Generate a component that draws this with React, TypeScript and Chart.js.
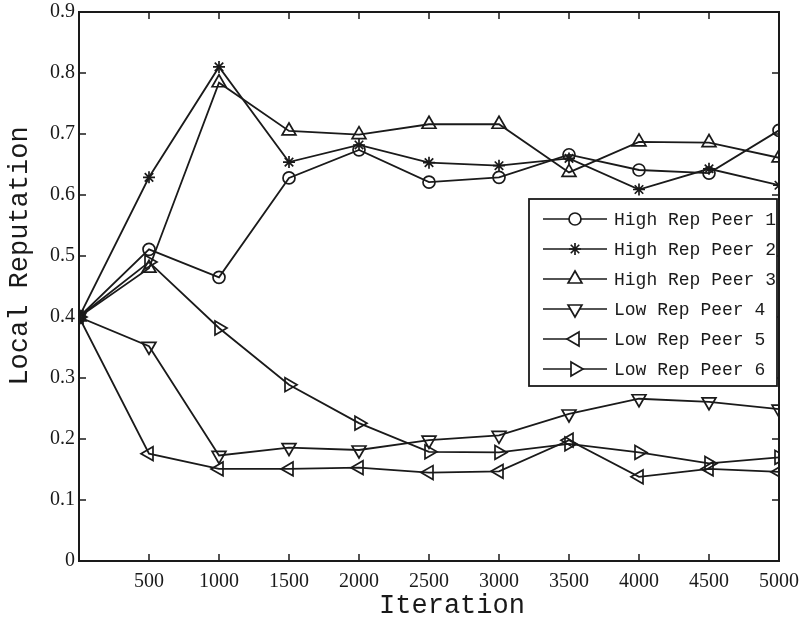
import React, { useEffect, useRef } from "react";
import { Chart, registerables } from "chart.js";
import { drawPoint } from "chart.js/helpers";

Chart.register(...registerables);

const iterations = [0, 500, 1000, 1500, 2000, 2500, 3000, 3500, 4000, 4500, 5000];
const seriesNames = [
  "High Rep Peer 1",
  "High Rep Peer 2",
  "High Rep Peer 3",
  "Low Rep Peer 4",
  "Low Rep Peer 5",
  "Low Rep Peer 6",
];
const peer1 = [0.4, 0.511, 0.465, 0.628, 0.674, 0.621, 0.629, 0.666, 0.641, 0.636, 0.706];
const peer2 = [0.4, 0.629, 0.81, 0.654, 0.682, 0.653, 0.648, 0.66, 0.609, 0.643, 0.616];
const peer3 = [0.4, 0.48, 0.784, 0.705, 0.699, 0.716, 0.716, 0.637, 0.687, 0.686, 0.661];
const peer4 = [0.4, 0.352, 0.173, 0.186, 0.182, 0.198, 0.206, 0.241, 0.266, 0.261, 0.249];
const peer5 = [0.4, 0.176, 0.151, 0.151, 0.153, 0.145, 0.147, 0.198, 0.138, 0.151, 0.146];
const peer6 = [0.4, 0.49, 0.382, 0.289, 0.226, 0.179, 0.178, 0.192, 0.178, 0.16, 0.17];
const yTicks = [0, 0.1, 0.2, 0.3, 0.4, 0.5, 0.6, 0.7, 0.8, 0.9];
const xTicks = [500, 1000, 1500, 2000, 2500, 3000, 3500, 4000, 4500, 5000];

const allSeries = [peer1, peer2, peer3, peer4, peer5, peer6];
const pointStyles = ["circle", "star", "triangle", "triangle", "triangle", "triangle"];
const rotations = [0, 0, 0, 180, 270, 90];
const radii = [6, 6, 8, 8, 8, 8];

const INK = "#1a1a1a";
const FONT = "'Liberation Mono', 'DejaVu Sans Mono', monospace";
const TICK_FONT = "'Liberation Serif', 'DejaVu Serif', serif";

const framePlugin = {
  id: "frame",
  afterDatasetsDraw(chart: any) {
    const { ctx, chartArea } = chart;
    const { left, right, top, bottom } = chartArea;
    const xs = chart.scales.x;
    const ys = chart.scales.y;
    ctx.save();
    ctx.strokeStyle = INK;
    ctx.lineWidth = 1.5;
    ctx.beginPath();
    xTicks.forEach((v) => {
      const px = xs.getPixelForValue(v);
      ctx.moveTo(px, bottom);
      ctx.lineTo(px, bottom - 7);
      ctx.moveTo(px, top);
      ctx.lineTo(px, top + 7);
    });
    yTicks.forEach((v) => {
      const py = ys.getPixelForValue(v);
      ctx.moveTo(left, py);
      ctx.lineTo(left + 7, py);
      ctx.moveTo(right, py);
      ctx.lineTo(right - 7, py);
    });
    ctx.stroke();
    ctx.lineWidth = 2;
    ctx.strokeRect(left, top, right - left, bottom - top);

    const lx = right - 250;
    const ly = top + 187;
    const lw = 248;
    const lh = 187;
    ctx.fillStyle = "#ffffff";
    ctx.fillRect(lx, ly, lw, lh);
    ctx.lineWidth = 1.8;
    ctx.strokeRect(lx, ly, lw, lh);
    ctx.font = `18px ${FONT}`;
    ctx.textBaseline = "middle";
    ctx.textAlign = "left";
    seriesNames.forEach((name, i) => {
      const cy = ly + 20 + i * 30;
      ctx.strokeStyle = INK;
      ctx.lineWidth = 1.7;
      ctx.beginPath();
      ctx.moveTo(lx + 14, cy);
      ctx.lineTo(lx + 78, cy);
      ctx.stroke();
      ctx.fillStyle = "#ffffff";
      drawPoint(ctx, {
        pointStyle: pointStyles[i],
        radius: radii[i],
        rotation: rotations[i],
        borderWidth: 1.8,
      } as any, lx + 46, cy);
      ctx.fillStyle = INK;
      ctx.fillText(name, lx + 85, cy + 1);
    });

    ctx.fillStyle = INK;
    ctx.font = `27px ${FONT}`;
    ctx.textAlign = "center";
    ctx.textBaseline = "middle";
    ctx.fillText("Iteration", 452, 606);
    ctx.save();
    ctx.translate(20, 256);
    ctx.rotate(-Math.PI / 2);
    ctx.fillText("Local Reputation", 0, 0);
    ctx.restore();
    ctx.restore();
  },
};

export default function App() {
  const ref = useRef<HTMLCanvasElement | null>(null);
  useEffect(() => {
    document.body.style.margin = "0";
    if (!ref.current) return;
    const chart = new Chart(ref.current, {
      type: "line",
      data: {
        datasets: allSeries.map((s, i) => ({
          label: seriesNames[i],
          data: s.map((y, j) => ({ x: iterations[j], y })),
          borderColor: INK,
          backgroundColor: "rgba(255,255,255,0)",
          borderWidth: 1.8,
          pointStyle: pointStyles[i] as any,
          pointRotation: rotations[i],
          pointRadius: radii[i],
          pointBorderWidth: 1.7,
          pointBorderColor: INK,
          pointBackgroundColor: "rgba(255,255,255,0)",
          tension: 0,
          fill: false,
        })),
      },
      options: {
        animation: false,
        responsive: false,
        maintainAspectRatio: false,
        layout: { padding: { top: 12, right: 21, left: 0, bottom: 0 } },
        plugins: { legend: { display: false }, tooltip: { enabled: false } },
        scales: {
          x: {
            type: "linear",
            min: 0,
            max: 5000,
            afterBuildTicks: (scale: any) => {
              scale.ticks = [0, ...xTicks].map((v) => ({ value: v }));
            },
            afterFit: (scale: any) => {
              scale.height = 65;
              scale.paddingLeft = 0;
              scale.paddingRight = 0;
            },
            grid: { display: false, drawTicks: false },
            border: { display: false },
            ticks: {
              color: INK,
              padding: 9,
              maxRotation: 0,
              autoSkip: false,
              font: { family: TICK_FONT, size: 20 },
              callback: (v: any) => (v === 0 ? "" : String(v)),
            },
          },
          y: {
            type: "linear",
            min: 0,
            max: 0.9,
            afterBuildTicks: (scale: any) => {
              scale.ticks = yTicks.map((v) => ({ value: v }));
            },
            afterFit: (scale: any) => {
              scale.width = 79;
              scale.paddingTop = 0;
              scale.paddingBottom = 0;
            },
            grid: { display: false, drawTicks: false },
            border: { display: false },
            ticks: {
              color: INK,
              padding: 4,
              autoSkip: false,
              font: { family: TICK_FONT, size: 20 },
              callback: (v: any) => String(Math.round(v * 10) / 10),
            },
          },
        },
      },
      plugins: [framePlugin],
    });
    return () => chart.destroy();
  }, []);
  return (
    <div style={{ position: "absolute", left: 0, top: 0, width: 800, height: 626 }}>
      <canvas ref={ref} width={800} height={626} style={{ width: 800, height: 626 }} />
    </div>
  );
}
